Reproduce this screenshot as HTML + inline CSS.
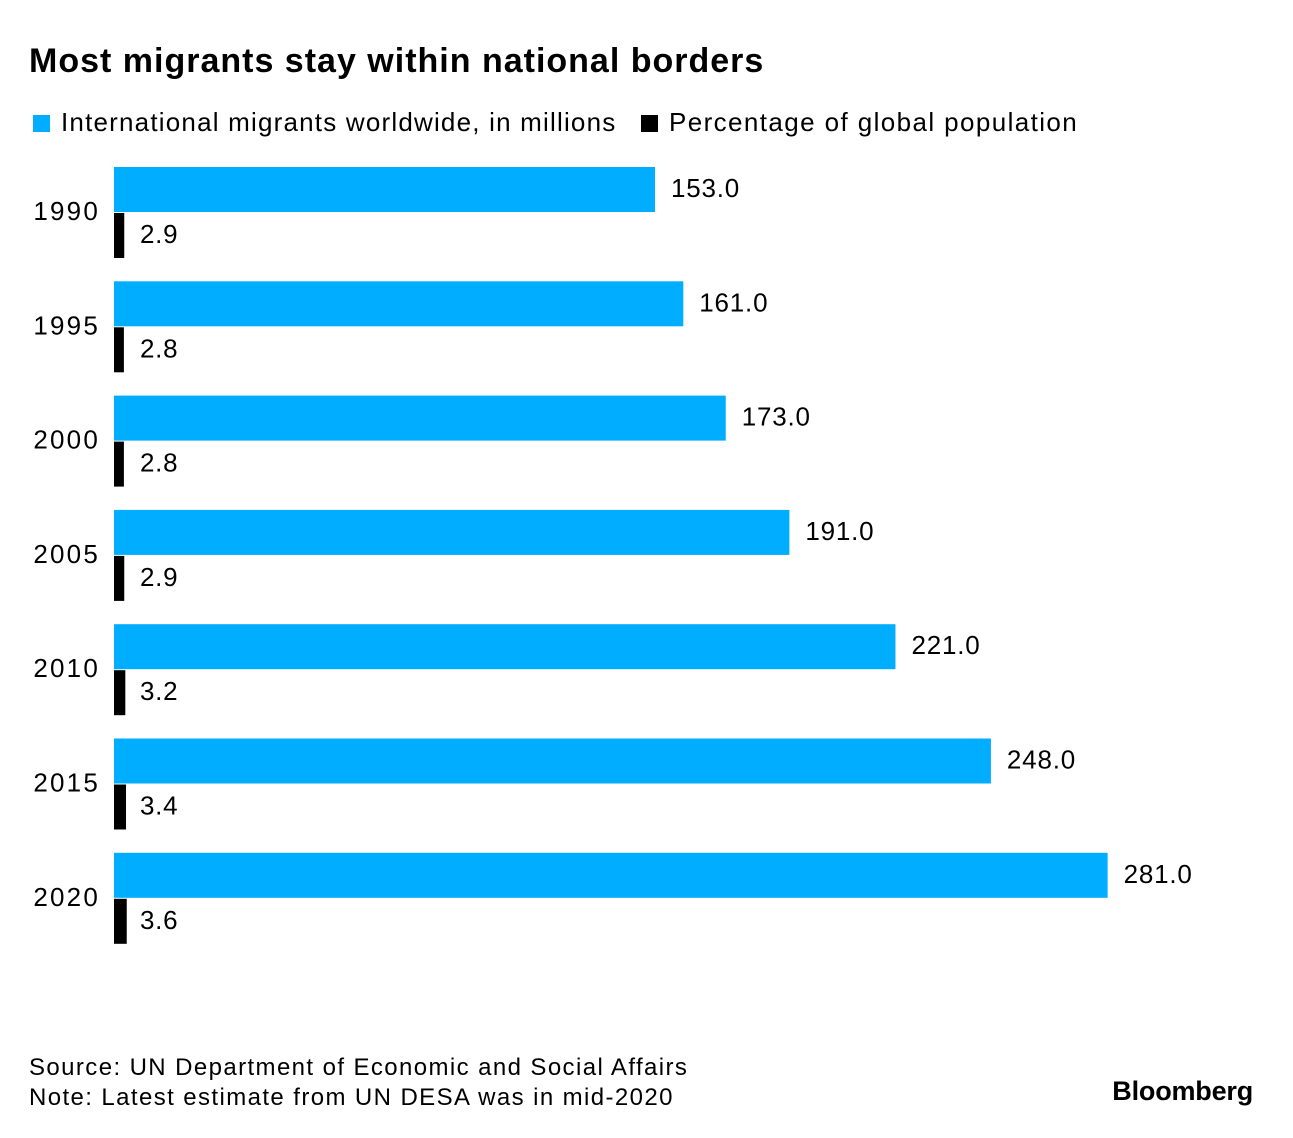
<!DOCTYPE html>
<html><head><meta charset="utf-8"><style>
body{margin:0;background:#fff;font-family:"Liberation Sans",sans-serif;color:#000}
#wrap{position:relative;width:1293px;height:1138px;overflow:hidden}
.t{position:absolute;white-space:nowrap}
</style></head><body>
<div id="wrap">
<div class="t" style="left:29px;top:42px;font-size:34px;font-weight:bold;letter-spacing:1px">Most migrants stay within national borders</div>
<div class="t" style="left:33px;top:107px;font-size:26px;letter-spacing:1.2px"><span style="display:inline-block;width:17px;height:17px;background:#00adff;margin-right:11px;vertical-align:-1px"></span>International migrants worldwide, in millions</div>
<div class="t" style="left:641px;top:107px;font-size:26px;letter-spacing:1.4px"><span style="display:inline-block;width:17px;height:17px;background:#000;margin-right:11px;vertical-align:-1px"></span>Percentage of global population</div>
<svg id="plot" width="1293" height="1138" style="position:absolute;left:0;top:0"></svg>
<div class="t" style="left:29px;top:1054px;font-size:24px;letter-spacing:1.4px">Source: UN Department of Economic and Social Affairs</div>
<div class="t" style="left:29px;top:1084px;font-size:24px;letter-spacing:1.4px">Note: Latest estimate from UN DESA was in mid-2020</div>
<div class="t" style="right:40px;top:1076px;font-size:27px;font-weight:bold;letter-spacing:-0.2px">Bloomberg</div>
</div>
<script>
const years=["1990","1995","2000","2005","2010","2015","2020"];
const migrants=[153.0,161.0,173.0,191.0,221.0,248.0,281.0];
const percent=[2.9,2.8,2.8,2.9,3.2,3.4,3.6];
const svg=document.getElementById('plot');
const NS='http://www.w3.org/2000/svg';
const x0=114,k=3.536,top0=167,pitch=114.3,bh=45;
const xs=v=>x0+v*k;
const ys=i=>top0+i*pitch;
function mk(tag,attrs,txt){const e=document.createElementNS(NS,tag);for(const a in attrs)e.setAttribute(a,attrs[a]);if(txt!==undefined)e.textContent=txt;svg.appendChild(e);return e;}
years.forEach((yr,i)=>{
 const y=ys(i);
 const b=mk('rect',{x:x0,y:y,width:xs(migrants[i])-x0,height:bh,fill:'#00adff'});
 
 
 const p=mk('rect',{x:x0,y:y+bh+1,width:xs(percent[i])-x0,height:bh,fill:'#000'});
 
 
 const l1=mk('text',{x:xs(migrants[i])+16,y:y+30,'font-size':26,'letter-spacing':0.8,'font-family':'Liberation Sans, sans-serif'},migrants[i].toFixed(1));
 
 
 const l2=mk('text',{x:140,y:y+76,'font-size':26,'letter-spacing':0.7,'font-family':'Liberation Sans, sans-serif'},percent[i].toFixed(1));
 
 
 const yl=mk('text',{x:100,y:y+53,'font-size':26,'letter-spacing':2.2,'text-anchor':'end','font-family':'Liberation Sans, sans-serif'},yr);
 
 
});
</script>
</body></html>
